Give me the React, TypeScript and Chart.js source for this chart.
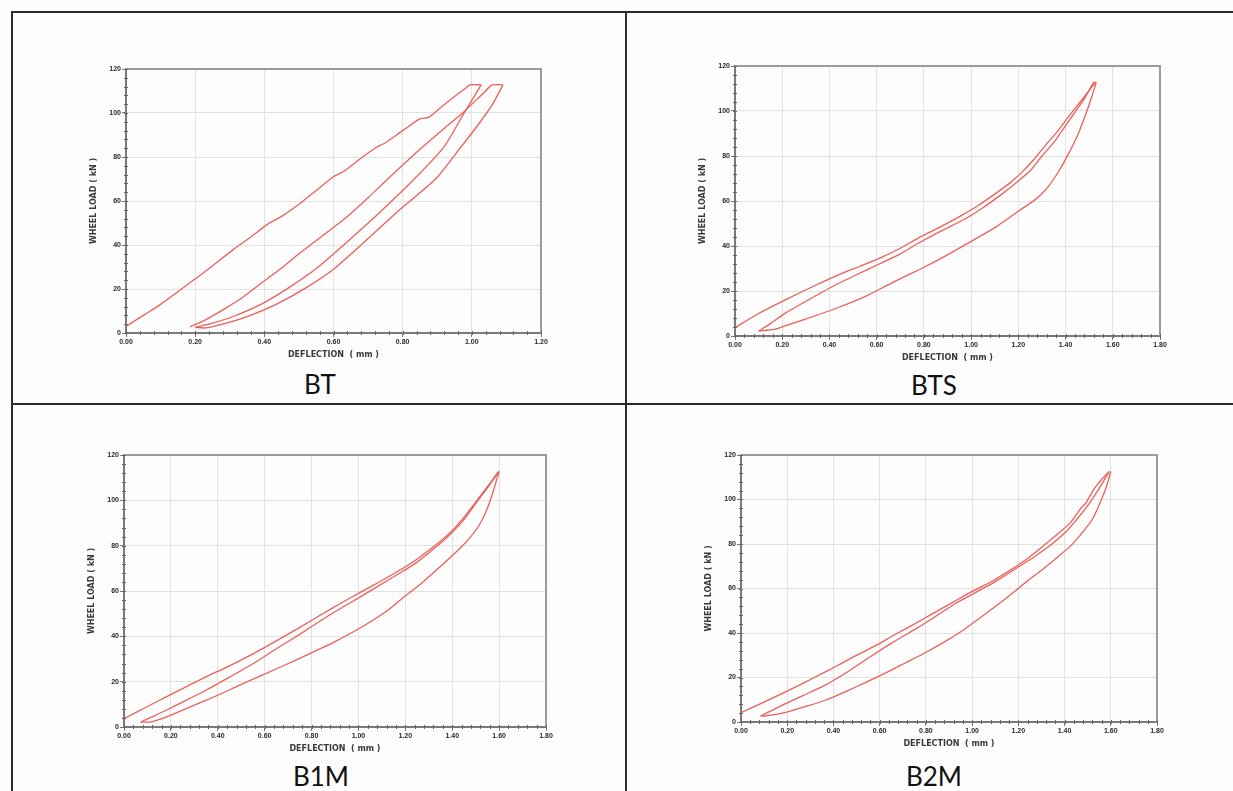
import React, { useEffect, useRef } from "react";
import { Chart, registerables } from "chart.js";

Chart.register(...registerables);

type Pt = [number, number];

// ---------- Tick labels / axes ----------
const Y_TICKS = [0, 20, 40, 60, 80, 100, 120];
const X_TICKS_BT = [0, 0.2, 0.4, 0.6, 0.8, 1.0, 1.2];
const X_TICKS_WIDE = [0, 0.2, 0.4, 0.6, 0.8, 1.0, 1.2, 1.4, 1.6, 1.8];
const X_TITLE = "DEFLECTION  ( mm )";
const Y_TITLE = "WHEEL LOAD ( kN )";

// ---------- BT ----------
const btLoad1: Pt[] = [
  [0, 3], [0.05, 8], [0.1, 13], [0.185, 22.8], [0.25, 30.5], [0.31, 37.9], [0.36, 43.5],
  [0.41, 49.5], [0.45, 53], [0.5, 58.5], [0.54, 63.5], [0.6, 71], [0.63, 73.5], [0.68, 79.5],
  [0.72, 84], [0.75, 86.5], [0.8, 92], [0.85, 97.3], [0.875, 98], [0.91, 102.5], [0.95, 107.5],
  [0.98, 111], [0.995, 112.8], [1.027, 112.8],
];
const btUnload1: Pt[] = [
  [1.027, 112.8], [0.999, 105.5], [0.972, 98.5], [0.945, 91], [0.917, 84], [0.84, 71],
  [0.735, 55], [0.64, 41.5], [0.552, 29.5], [0.47, 20.5], [0.39, 13], [0.31, 7.5],
  [0.25, 4.5], [0.2, 2.6],
];
const btLoad2: Pt[] = [
  [0.185, 2.8], [0.23, 6], [0.28, 10.5], [0.34, 16.5], [0.39, 22.5], [0.45, 29.5], [0.5, 36],
  [0.55, 42], [0.64, 53], [0.7, 61.5], [0.757, 70], [0.85, 83.5], [0.92, 93], [0.97, 99.5],
  [1.01, 105.5], [1.04, 110], [1.058, 112.8], [1.09, 112.8],
];
const btUnload2: Pt[] = [
  [1.09, 112.8], [1.06, 104], [1.02, 95], [0.966, 84], [0.895, 70], [0.784, 55], [0.69, 41.5],
  [0.6, 29], [0.52, 20.5], [0.44, 13.5], [0.36, 8], [0.29, 4.5], [0.23, 2.3], [0.2, 2.6],
];

// ---------- BTS ----------
const btsUpper: Pt[] = [
  [0, 3.7], [0.1, 10], [0.215, 16.2], [0.33, 22], [0.446, 27.5], [0.53, 31], [0.611, 34.5],
  [0.7, 39], [0.776, 43.5], [0.87, 48.5], [0.958, 53.5], [1.03, 58], [1.106, 63.5],
  [1.17, 68.5], [1.222, 73.5], [1.27, 79], [1.321, 85.5], [1.37, 91.5], [1.42, 98.5],
  [1.47, 105], [1.51, 110.5], [1.527, 112.7],
];
const btsMiddle: Pt[] = [
  [0.1, 2.2], [0.15, 5.5], [0.215, 10.3], [0.31, 16], [0.413, 22], [0.51, 27], [0.611, 32],
  [0.7, 36.5], [0.776, 41.2], [0.87, 46.5], [0.974, 52], [1.05, 57], [1.123, 62.5],
  [1.19, 68], [1.255, 74], [1.3, 80], [1.354, 86.5], [1.4, 93.5], [1.437, 99], [1.48, 105.5],
  [1.519, 112.7], [1.53, 112.7],
];
const btsLower: Pt[] = [
  [1.53, 112.7], [1.51, 106], [1.48, 97], [1.45, 89], [1.415, 81.5], [1.37, 73], [1.32, 65.5],
  [1.27, 60.5], [1.207, 56], [1.106, 48.5], [0.974, 40.5], [0.89, 35.5], [0.809, 31],
  [0.72, 26.5], [0.644, 22.5], [0.55, 17.5], [0.446, 13], [0.34, 9], [0.231, 5.2],
  [0.165, 2.9], [0.1, 2.2],
];

// ---------- B1M ----------
const b1mUpper: Pt[] = [
  [0, 3.7], [0.09, 8.5], [0.18, 13.3], [0.26, 17.5], [0.349, 22.1], [0.45, 27], [0.552, 32.4],
  [0.65, 38], [0.754, 44.2], [0.84, 49.5], [0.923, 54.5], [1.01, 59.5], [1.091, 64.1],
  [1.17, 68.8], [1.243, 73.6], [1.32, 79.5], [1.395, 86.2], [1.45, 92.5], [1.496, 98.7],
  [1.55, 106], [1.597, 112.7],
];
const b1mMiddle: Pt[] = [
  [0.071, 2.2], [0.12, 4.5], [0.18, 7.4], [0.26, 11.5], [0.349, 16.2], [0.45, 22], [0.552, 28],
  [0.65, 34.5], [0.754, 41.2], [0.84, 47], [0.923, 52.3], [1.01, 57.5], [1.091, 62.6],
  [1.17, 67.5], [1.243, 72.2], [1.32, 78.5], [1.395, 85.4], [1.45, 91.5], [1.496, 98],
  [1.55, 105.5], [1.6, 112.7],
];
const b1mLower: Pt[] = [
  [1.6, 112.7], [1.575, 104], [1.547, 95.7], [1.515, 89], [1.479, 84], [1.44, 79.5],
  [1.395, 75.1], [1.33, 69], [1.26, 62.6], [1.19, 57], [1.125, 51.5], [1.06, 47],
  [0.99, 42.7], [0.9, 37.7], [0.822, 33.8], [0.74, 29.8], [0.653, 25.8], [0.57, 22],
  [0.484, 18], [0.4, 14], [0.315, 10.3], [0.24, 7], [0.18, 4.4], [0.113, 2.2], [0.071, 2.2],
];

// ---------- B2M ----------
const b2mUpper: Pt[] = [
  [0, 4.2], [0.09, 8.5], [0.186, 13.2], [0.27, 17.5], [0.356, 22.1], [0.42, 25.5],
  [0.492, 29.6], [0.58, 34.2], [0.661, 39], [0.75, 44], [0.831, 48.8], [0.92, 54],
  [1.0, 58.7], [1.09, 63.5], [1.169, 68.5], [1.24, 73.5], [1.305, 78.9], [1.37, 84.5],
  [1.424, 89.4], [1.47, 96], [1.492, 98.4], [1.525, 104.3], [1.56, 109], [1.593, 112.6],
];
const b2mMiddle: Pt[] = [
  [0.085, 2.7], [0.13, 5], [0.186, 7.9], [0.27, 12], [0.356, 16.1], [0.46, 22.5],
  [0.559, 29.3], [0.66, 36], [0.763, 42.3], [0.85, 48], [0.932, 53.5], [1.02, 58.5],
  [1.102, 63.2], [1.19, 69], [1.271, 74.4], [1.34, 79.5], [1.407, 85.6], [1.46, 92],
  [1.508, 98.4], [1.55, 105], [1.593, 112.6],
];
const b2mLower: Pt[] = [
  [1.6, 112.6], [1.585, 107], [1.559, 99.8], [1.52, 91], [1.475, 84.9], [1.43, 79.5],
  [1.373, 74.4], [1.31, 69], [1.237, 63.2], [1.17, 57.5], [1.102, 52], [1.03, 46.5],
  [0.966, 41.6], [0.88, 36], [0.797, 31.1], [0.71, 26.5], [0.627, 22.1], [0.54, 17.8],
  [0.458, 13.9], [0.37, 10], [0.288, 7.2], [0.21, 4.8], [0.153, 3.4], [0.102, 2.7],
  [0.085, 2.7],
];

// ---------- Styling / layout ----------
const LINE_COLOR = "rgb(236, 96, 90)";
const GRID_COLOR = "#e2e2e2";
const AXIS_COLOR = "#7a7a7a";
const FRAME_COLOR = "#9c9c9c";
const YW = 40; // y-axis box width
const XH = 32; // x-axis box height
const PT = 8;
const PR = 14;

type Panel = {
  name: string;
  curves: Pt[][];
  xTicks: number[];
  plot: { l: number; t: number; r: number; b: number };
  capX: number;
  capTop: number;
};

const PANELS: Panel[] = [
  { name: "BT", curves: [btLoad1, btUnload1, btLoad2, btUnload2], xTicks: X_TICKS_BT,
    plot: { l: 126, t: 69, r: 541, b: 333 }, capX: 320, capTop: 371 },
  { name: "BTS", curves: [btsUpper, btsMiddle, btsLower], xTicks: X_TICKS_WIDE,
    plot: { l: 735, t: 66, r: 1160, b: 336 }, capX: 934, capTop: 372 },
  { name: "B1M", curves: [b1mUpper, b1mMiddle, b1mLower], xTicks: X_TICKS_WIDE,
    plot: { l: 124, t: 455, r: 546, b: 727 }, capX: 321, capTop: 763 },
  { name: "B2M", curves: [b2mUpper, b2mMiddle, b2mLower], xTicks: X_TICKS_WIDE,
    plot: { l: 741, t: 455, r: 1157, b: 722 }, capX: 934, capTop: 763 },
];

const framePlugin = {
  id: "frameAndMinor",
  afterDatasetsDraw(chart: any) {
    const { ctx, chartArea: a, scales } = chart;
    const xs = scales.x;
    const ys = scales.y;
    ctx.save();
    // top and right frame
    ctx.strokeStyle = FRAME_COLOR;
    ctx.lineWidth = 2;
    ctx.beginPath();
    ctx.moveTo(a.left, a.top);
    ctx.lineTo(a.right, a.top);
    ctx.lineTo(a.right, a.bottom);
    ctx.stroke();
    // minor ticks
    ctx.strokeStyle = "#666";
    ctx.lineWidth = 1;
    ctx.beginPath();
    const xMin = xs.min, xMax = xs.max;
    const xn = Math.round((xMax - xMin) / 0.04);
    for (let i = 0; i <= xn; i++) {
      const px = Math.round(xs.getPixelForValue(xMin + i * 0.04)) + 0.5;
      ctx.moveTo(px, a.bottom - 2);
      ctx.lineTo(px, a.bottom + 2);
    }
    const yn = Math.round((ys.max - ys.min) / 4);
    for (let i = 0; i <= yn; i++) {
      const py = Math.round(ys.getPixelForValue(ys.min + i * 4)) + 0.5;
      ctx.moveTo(a.left - 2, py);
      ctx.lineTo(a.left + 2, py);
    }
    ctx.stroke();
    ctx.restore();
  },
};

const tickFont = { family: "'Liberation Sans', Arial, sans-serif", size: 7, weight: "bold" as const };
const titleFont = { family: "'DejaVu Sans', sans-serif", size: 8, weight: "bold" as const };

function ChartPanel({ panel }: { panel: Panel }) {
  const ref = useRef<HTMLCanvasElement | null>(null);
  const { l, t, r, b } = panel.plot;
  const width = r - l + YW + PR;
  const height = b - t + PT + XH;

  useEffect(() => {
    if (!ref.current) return;
    const xMax = panel.xTicks[panel.xTicks.length - 1];
    const yMax = Y_TICKS[Y_TICKS.length - 1];
    const chart = new Chart(ref.current, {
      type: "scatter",
      data: {
        datasets: panel.curves.map((c) => ({
          data: c.map(([x, y]) => ({ x, y })),
          showLine: true,
          borderColor: LINE_COLOR,
          backgroundColor: LINE_COLOR,
          borderWidth: 1.3,
          pointRadius: 0,
          tension: 0.2,
          fill: false,
        })),
      },
      options: {
        responsive: false,
        animation: false,
        events: [],
        layout: { padding: { top: PT, right: PR, left: 0, bottom: 0 } },
        plugins: { legend: { display: false }, tooltip: { enabled: false } },
        scales: {
          x: {
            type: "linear",
            min: 0,
            max: xMax,
            afterBuildTicks: (s: any) => {
              s.ticks = panel.xTicks.map((v) => ({ value: v }));
            },
            afterFit: (s: any) => {
              s.height = XH;
            },
            ticks: {
              callback: (v: any) => Number(v).toFixed(2),
              font: tickFont,
              color: "#2a2a2a",
              padding: 1,
              maxRotation: 0,
              autoSkip: false,
            },
            grid: { color: GRID_COLOR, tickColor: AXIS_COLOR, tickLength: 4, lineWidth: 1 },
            border: { color: AXIS_COLOR, width: 2 },
            title: {
              display: true,
              text: X_TITLE,
              font: titleFont,
              color: "#3a3a3a",
              padding: { top: 2, bottom: 5 },
            },
          },
          y: {
            type: "linear",
            min: 0,
            max: yMax,
            afterBuildTicks: (s: any) => {
              s.ticks = Y_TICKS.map((v) => ({ value: v }));
            },
            afterFit: (s: any) => {
              s.width = YW;
            },
            ticks: {
              callback: (v: any) => String(v),
              font: tickFont,
              color: "#2a2a2a",
              padding: 1,
            },
            grid: { color: GRID_COLOR, tickColor: AXIS_COLOR, tickLength: 4, lineWidth: 1 },
            border: { color: AXIS_COLOR, width: 2 },
            title: {
              display: true,
              text: Y_TITLE,
              font: titleFont,
              color: "#3a3a3a",
              padding: { top: 3, bottom: 2 },
            },
          },
        },
      } as any,
      plugins: [framePlugin],
    });
    return () => chart.destroy();
  }, [panel]);

  return (
    <canvas
      ref={ref}
      width={width}
      height={height}
      style={{ position: "absolute", left: l - YW, top: t - PT, width, height }}
    />
  );
}

const BORDER = "#2b2b2b";

export default function App() {
  return (
    <div
      style={{
        position: "fixed",
        left: 0,
        top: 0,
        width: 1233,
        height: 791,
        overflow: "hidden",
        background: "#fdfdfd",
      }}
    >
      {/* table borders */}
      <div style={{ position: "absolute", left: 11, top: 11, width: 1222, height: 1.5, background: BORDER }} />
      <div style={{ position: "absolute", left: 11, top: 403, width: 1222, height: 1.5, background: BORDER }} />
      <div style={{ position: "absolute", left: 11, top: 11, width: 1.5, height: 780, background: BORDER }} />
      <div style={{ position: "absolute", left: 625, top: 11, width: 1.5, height: 780, background: BORDER }} />
      {PANELS.map((p) => (
        <ChartPanel key={p.name} panel={p} />
      ))}
      {PANELS.map((p) => (
        <div
          key={p.name + "-cap"}
          style={{
            position: "absolute",
            left: p.capX - 100,
            top: p.capTop,
            width: 200,
            textAlign: "center",
            fontFamily: "Lato, 'Open Sans', sans-serif",
            fontSize: 26,
            lineHeight: "26px",
            color: "#111",
          }}
        >
          {p.name}
        </div>
      ))}
    </div>
  );
}
